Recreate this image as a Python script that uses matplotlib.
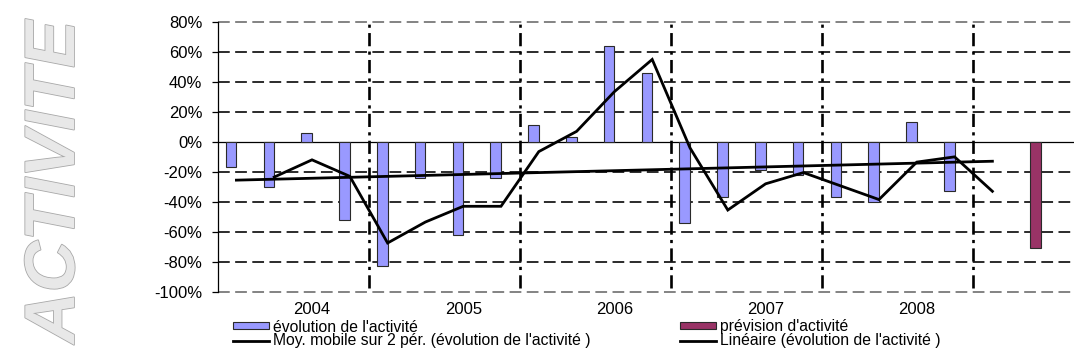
import numpy as np
import matplotlib
matplotlib.use("Agg")
import matplotlib.pyplot as plt
from matplotlib import patheffects
from matplotlib.patches import Patch
from matplotlib.lines import Line2D

# Quarterly activity change (%), 2004 Q1 .. 2008 Q4, then one forecast quarter
activity = [-17, -30, 6, -52, -83, -24, -62, -24, 11, 3, 64, 46,
            -54, -37, -19, -22, -37, -40, 13, -33]
forecast = [-71]
forecast_index = [21]
# 2-period moving average of the activity series (categories 1..20)
moving_avg = [-23.5, -12, -23, -67.5, -53.5, -43, -43, -6.5, 7, 33.5,
              55, -4, -45.5, -28, -20.5, -29.5, -38.5, -13.5, -10, -33]
moving_avg_index = list(range(1, 21))
trend_span = [0, 20]

years = ["2004", "2005", "2006", "2007", "2008"]
year_label_index = [2, 6, 10, 14, 18]
year_breaks = [3.5, 7.5, 11.5, 15.5, 19.5]
y_ticks = list(range(-100, 81, 20))

plt.rcParams["font.family"] = ["Liberation Sans", "DejaVu Sans"]

W, H = 1074, 360
fig = plt.figure(figsize=(W / 100, H / 100), dpi=100)
fig.patch.set_facecolor("white")

cat_w = 37.8
left_px, top_px, bottom_px = 217.5, 22.0, 291.7
n_cats = 23
ax = fig.add_axes([left_px / W, (H - bottom_px) / H,
                   n_cats * cat_w / W, (bottom_px - top_px) / H])
ax.set_xlim(-0.5, n_cats - 0.5)
ax.set_ylim(-100, 80)

# horizontal grid
for v in y_ticks:
    if v == 0:
        continue
    edge = v in (-100, 80)
    ax.axhline(v, color="#7a7a7a" if edge else "#1a1a1a", lw=1.3,
               ls=(0, (6.5, 3.0)), zorder=1, clip_on=False)
ax.axhline(0, color="black", lw=0.9, zorder=1.5)

# year separators
for xb in year_breaks:
    ax.axvline(xb, ymin=0.015, ymax=1.0, color="black", lw=1.9,
               ls=(0, (5.0, 2.0, 1.2, 2.0)), zorder=1.2)

bw = 0.28
act_x = np.arange(len(activity))
ax.bar(act_x - bw / 2, activity, width=bw, color="#9999FF",
       edgecolor="#2a2a2a", lw=0.8, zorder=3)
ax.bar(np.array(forecast_index) + bw / 2, forecast, width=bw, color="#993366",
       edgecolor="#2a2a2a", lw=0.8, zorder=3)

ax.plot(moving_avg_index, moving_avg, color="black", lw=2.0, zorder=4,
        solid_joinstyle="miter")
coef = np.polyfit(act_x, activity, 1)
tx = np.array(trend_span, dtype=float)
ax.plot(tx, np.polyval(coef, tx), color="black", lw=2.0, zorder=4)

# axes styling
for s in ("top", "right", "bottom"):
    ax.spines[s].set_visible(False)
ax.spines["left"].set_color("black")
ax.spines["left"].set_linewidth(0.9)
ax.spines["left"].set_zorder(5)
ax.set_yticks(y_ticks)
ax.set_yticklabels([f"{v}%" for v in y_ticks])
ax.tick_params(axis="y", length=4.5, width=0.9, pad=6.5, labelsize=12,
               colors="black")
ax.set_xticks(year_label_index)
ax.set_xticklabels(years)
ax.tick_params(axis="x", length=0, pad=7.5, labelsize=12)
ax.set_facecolor("none")

# legend
handles = [
    Patch(facecolor="#9999FF", edgecolor="#2a2a2a", lw=0.8),
    Line2D([], [], color="black", lw=2.0),
    Patch(facecolor="#993366", edgecolor="#2a2a2a", lw=0.8),
    Line2D([], [], color="black", lw=2.0),
]
labels = ["évolution de l'activité",
          "Moy. mobile sur 2 pér. (évolution de l'activité )",
          "prévision d'activité",
          "Linéaire (évolution de l'activité )"]
fig.legend(handles, labels, ncol=2, loc="upper left",
           bbox_to_anchor=(233 / W, 1 - 319.5 / H), frameon=False,
           fontsize=11.3, handlelength=2.3, handleheight=0.32,
           handletextpad=0.25, labelspacing=-0.08, columnspacing=5.7,
           borderpad=0, borderaxespad=0)

# side title
fig.text(56 / W, 1 - 182 / H, "ACTIVITE", rotation=90, ha="center",
         va="center", family=["Liberation Sans", "DejaVu Sans"],
         fontstyle="italic", fontweight="bold", fontsize=51, color="#e8e8e8",
         path_effects=[patheffects.Stroke(linewidth=1.2, foreground="#a8a8a8"),
                       patheffects.Normal()])

fig.savefig("out.png", dpi=100, facecolor="white")
